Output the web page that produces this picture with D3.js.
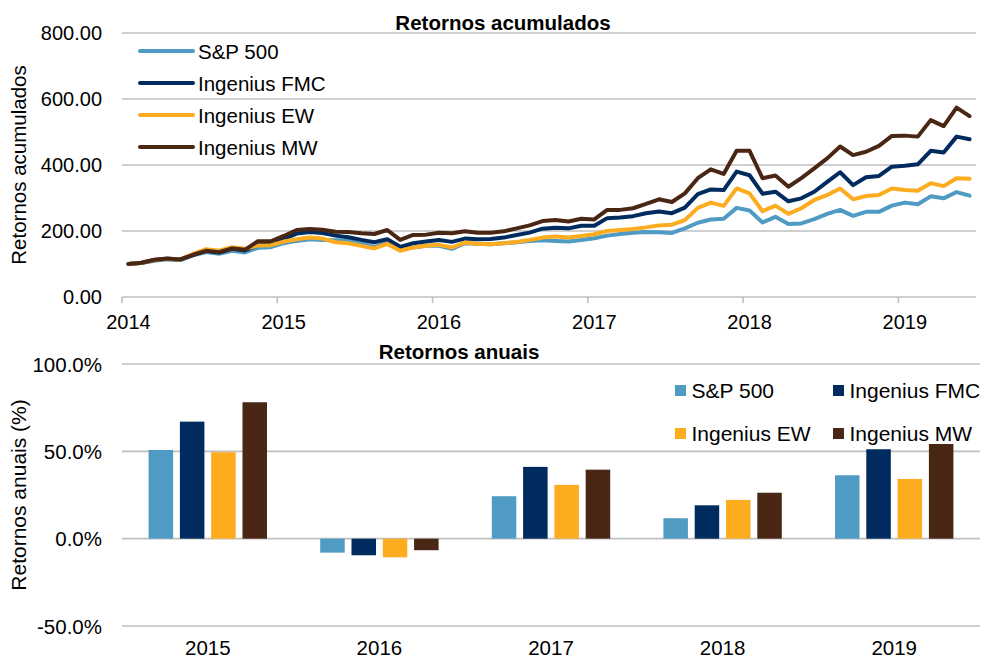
<!DOCTYPE html>
<html>
<head>
<meta charset="utf-8">
<script src="https://cdn.jsdelivr.net/npm/d3@7"></script>
<style>
  html, body { margin: 0; padding: 0; background: #ffffff; }
  svg { display: block; font-family: "Liberation Sans", Arial, sans-serif; }
</style>
</head>
<body>
<svg id="chart" width="982" height="660"></svg>
<script>
// ---------- DATA ----------
const seriesNames = ["S&P 500", "Ingenius FMC", "Ingenius EW", "Ingenius MW"];
const seriesColors = ["#4F9BC4", "#002B5E", "#FDAB1F", "#4A2615"];

// monthly cumulative returns, Jan 2014 .. Jun 2019
const startMonth = new Date(2014, 0, 1);
const endMonth = new Date(2019, 6, 1);
const sp500 = [100,103,110,114,112,126,136,131,140,135,149,151,163,170,175,173,172,171,161,152,163,145,150,155,155,146,163,161,160,163,166,170,172,170,168,173,178,186,191,195,197,196,194,208,225,235,237,270,262,226,243,221,223,236,252,264,246,258,258,277,286,281,305,299,318,307];
const fmc   = [100,104,112,116,113,128,139,135,146,141,158,159,176,192,197,194,186,181,173,166,175,152,163,168,173,167,177,175,176,180,188,195,207,210,208,216,216,239,241,245,254,259,254,271,312,326,324,380,369,313,319,290,299,319,349,378,339,363,367,395,398,402,443,438,486,478];
const ew    = [100,104,112,116,114,131,145,140,151,146,156,157,168,175,180,177,166,163,155,147,161,140,150,155,158,150,165,161,160,163,167,173,180,183,180,185,190,200,203,206,211,217,219,233,270,286,276,329,314,260,277,252,269,294,309,329,296,306,309,329,324,322,345,336,360,358];
const mw    = [100,104,113,117,114,128,140,136,147,143,169,169,185,203,206,204,198,197,193,191,203,173,188,189,195,193,199,195,195,199,208,217,230,233,229,237,235,264,264,269,282,296,288,314,360,387,373,443,443,360,368,334,360,390,420,456,430,440,458,488,489,486,536,518,574,548];
const cumTicks = [0, 200, 400, 600, 800];

// annual returns (%)
const years = ["2015", "2016", "2017", "2018", "2019"];
const annSp  = [50.8, -8.0, 24.3, 11.7, 36.3];
const annFmc = [67.0, -9.5, 41.1, 19.1, 51.2];
const annEw  = [49.5, -10.7, 30.8, 22.2, 34.2];
const annMw  = [78.1, -6.6, 39.5, 26.3, 54.2];
const annTicks = [-50, 0, 50, 100];

// ---------- SETUP ----------
const svg = d3.select("#chart");
const GRID = "#BFBFBF";
const FS = 20;

const months = d3.timeMonth.range(startMonth, endMonth);
const monthKeys = months.map(d3.timeFormat("%Y-%m"));
const cumSeries = [sp500, fmc, ew, mw];

// ---------- TOP CHART ----------
const gTop = svg.append("g");
const xTop = d3.scaleBand().domain(monthKeys).range([122, 976]).padding(0);
const yTop = d3.scaleLinear().domain([0, 800]).range([297, 33]);

gTop.append("g").selectAll("line").data(cumTicks.filter(t => t > 0)).join("line")
  .attr("x1", 122).attr("x2", 976)
  .attr("y1", d => yTop(d)).attr("y2", d => yTop(d))
  .attr("stroke", GRID).attr("stroke-width", 1.6);

gTop.append("line").attr("x1", 122).attr("x2", 976)
  .attr("y1", yTop(0)).attr("y2", yTop(0))
  .attr("stroke", GRID).attr("stroke-width", 1.6);
const janKeys = monthKeys.filter(k => k.endsWith("-01"));
gTop.append("g").selectAll("line").data(janKeys).join("line")
  .attr("x1", d => xTop(d)).attr("x2", d => xTop(d))
  .attr("y1", yTop(0)).attr("y2", yTop(0) + 6)
  .attr("stroke", GRID).attr("stroke-width", 1.6);
gTop.append("g").selectAll("text").data(janKeys).join("text")
  .attr("x", d => xTop(d) + xTop.bandwidth() / 2)
  .attr("y", 329)
  .attr("text-anchor", "middle")
  .attr("font-size", FS).attr("fill", "#000")
  .text(d => d.slice(0, 4));

gTop.append("g").selectAll("text").data(cumTicks).join("text")
  .attr("x", 102).attr("y", d => yTop(d))
  .attr("text-anchor", "end").attr("dominant-baseline", "central")
  .attr("font-size", FS).attr("fill", "#000")
  .text(d => d.toFixed(2));

const line = d3.line()
  .x((d, i) => xTop(monthKeys[i]) + xTop.bandwidth() / 2)
  .y(d => yTop(d))
  .curve(d3.curveLinear);
gTop.append("g").selectAll("path").data(cumSeries).join("path")
  .attr("d", d => line(d))
  .attr("fill", "none")
  .attr("stroke", (d, i) => seriesColors[i])
  .attr("stroke-width", 4)
  .attr("stroke-linejoin", "round")
  .attr("stroke-linecap", "round");

gTop.append("text").attr("x", 503).attr("y", 30)
  .attr("text-anchor", "middle").attr("font-weight", "bold")
  .attr("font-size", 20.5).text("Retornos acumulados");

gTop.append("text").attr("transform", "translate(25.5,165) rotate(-90)")
  .attr("text-anchor", "middle").attr("font-size", 20.5)
  .text("Retornos acumulados");

const legTop = gTop.append("g").selectAll("g").data(seriesNames).join("g")
  .attr("transform", (d, i) => `translate(0,${51 + i * 32})`);
legTop.append("line").attr("x1", 140).attr("x2", 193).attr("y1", 0).attr("y2", 0)
  .attr("stroke", (d, i) => seriesColors[i]).attr("stroke-width", 4)
  .attr("stroke-linecap", "round");
legTop.append("text").attr("x", 198).attr("y", 0)
  .attr("dominant-baseline", "central").attr("font-size", 20.5)
  .text(d => d);

// ---------- BOTTOM CHART ----------
const gBot = svg.append("g");
const annSeries = [annSp, annFmc, annEw, annMw];
const xBot = d3.scaleBand().domain(years).range([122, 980]).padding(0);
const xInner = d3.scaleBand().domain(d3.range(seriesNames.length))
  .range([-59.2, 59.2]).paddingInner(0.217).paddingOuter(0);
const yBot = d3.scaleLinear().domain([-50, 100]).range([626, 364]);

gBot.append("g").selectAll("line").data(annTicks).join("line")
  .attr("x1", 122).attr("x2", 980)
  .attr("y1", d => yBot(d)).attr("y2", d => yBot(d))
  .attr("stroke", GRID).attr("stroke-width", 1.6);

gBot.append("g").selectAll("text").data(annTicks).join("text")
  .attr("x", 102).attr("y", d => yBot(d))
  .attr("text-anchor", "end").attr("dominant-baseline", "central")
  .attr("font-size", 20.5).attr("fill", "#000")
  .text(d => d.toFixed(1) + "%");

const barData = [];
years.forEach((yr, yi) => {
  annSeries.forEach((s, si) => barData.push({ yr, si, v: s[yi] }));
});
gBot.append("g").selectAll("rect").data(barData).join("rect")
  .attr("x", d => xBot(d.yr) + xBot.bandwidth() / 2 + xInner(d.si))
  .attr("width", xInner.bandwidth())
  .attr("y", d => yBot(Math.max(0, d.v)))
  .attr("height", d => Math.abs(yBot(d.v) - yBot(0)))
  .attr("fill", d => seriesColors[d.si]);

gBot.append("g").selectAll("text").data(years).join("text")
  .attr("x", d => xBot(d) + xBot.bandwidth() / 2)
  .attr("y", 654.5)
  .attr("text-anchor", "middle").attr("font-size", 20.5)
  .text(d => d);

gBot.append("text").attr("x", 459).attr("y", 359)
  .attr("text-anchor", "middle").attr("font-weight", "bold")
  .attr("font-size", 20.5).text("Retornos anuais");

gBot.append("text").attr("transform", "translate(26,495) rotate(-90)")
  .attr("text-anchor", "middle").attr("font-size", 21)
  .text("Retornos anuais (%)");

const legPos = [[675, 390.5], [833, 390.5], [675, 433.5], [833, 433.5]];
const legBot = gBot.append("g").selectAll("g").data(seriesNames).join("g")
  .attr("transform", (d, i) => `translate(${legPos[i][0]},${legPos[i][1]})`);
legBot.append("rect").attr("x", 0).attr("y", -5.5).attr("width", 11).attr("height", 11)
  .attr("fill", (d, i) => seriesColors[i]);
legBot.append("text").attr("x", 16.5).attr("y", 0)
  .attr("dominant-baseline", "central").attr("font-size", 21)
  .text(d => d);
</script>
</body>
</html>
